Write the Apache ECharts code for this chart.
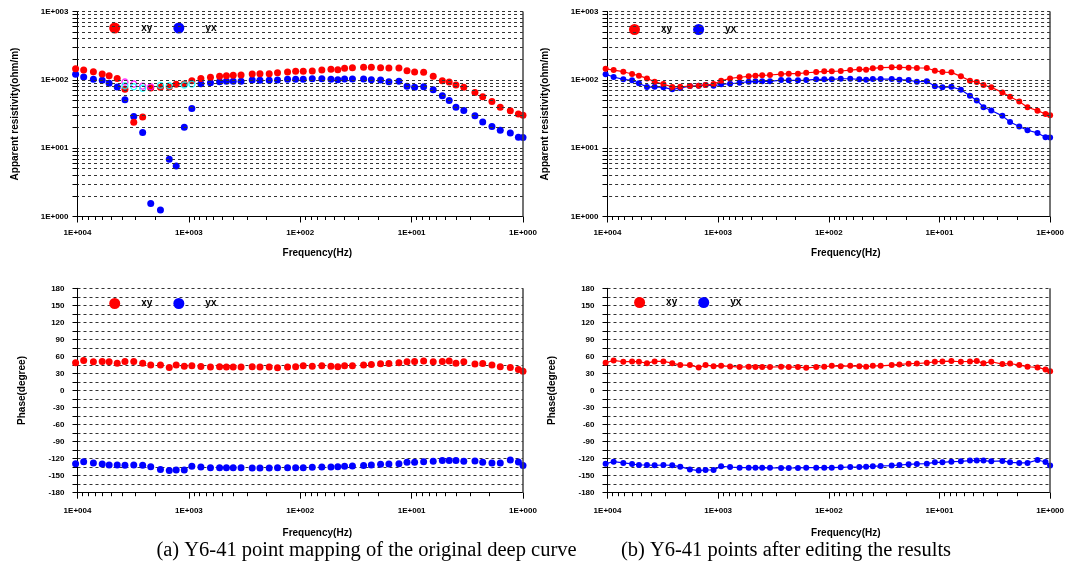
<!DOCTYPE html>
<html>
<head>
<meta charset="utf-8">
<script src="https://cdn.jsdelivr.net/npm/echarts@6/dist/echarts.min.js"></script>
<style>html,body{margin:0;padding:0;background:#fff}#c{width:1067px;height:564px}</style>
</head>
<body>
<div id="c"></div>
<script>
// ---------------- data ----------------
const freqHz = [10400, 8800, 7200, 6000, 5200, 4400, 3750, 3125, 2600, 2200, 1800, 1500, 1300, 1100, 940, 780, 640, 530, 460, 400, 340, 270, 230, 190, 160, 130, 110, 94, 78, 64, 53, 46, 40, 34, 27, 23, 19, 16, 13, 11, 9.4, 7.8, 6.4, 5.3, 4.6, 4.0, 3.4, 2.7, 2.3, 1.9, 1.6, 1.3, 1.1, 1.0];

// (a) original curve
const rhoXyRaw = [145.5, 139, 131.5, 121.6, 115, 105, 72.6, 24, 28.7, 75.8, 77.6, 78.4, 85.9, 86.7, 97, 105, 109, 112.5, 115, 116.5, 117.6, 121.6, 123, 123, 127, 130, 133, 133, 134.6, 139, 142.6, 140.7, 147.5, 150.6, 152.6, 152.6, 150.6, 149, 149, 136, 130, 128.8, 112.5, 97, 92.9, 83.9, 77.6, 65.5, 56.5, 48.3, 39.7, 35.4, 31.6, 30.4];
const rhoYxRaw = [120.5, 110, 101.7, 98.4, 88.9, 78.4, 51, 29.1, 16.9, 1.55, 1.25, 6.87, 5.48, 20.3, 38.1, 87.7, 90.7, 93.8, 95, 95, 95, 99.3, 98.4, 98.4, 99.3, 101.7, 101.7, 101.7, 103.8, 103.8, 101.7, 100.4, 102.7, 102.7, 102.7, 100.4, 99.3, 93.8, 95, 80.3, 77.6, 78.9, 71.6, 58.5, 50, 39.7, 35.6, 29.7, 24.2, 20.7, 18.3, 16.7, 14.4, 14.3];
// open (edited) markers in (a)
const openXyFreq = [3750, 3125, 2600, 2200];
const openXyRho = [92.9, 86.7, 81, 79.2];
const openYxFreq = [3750, 3125, 2600, 1800, 1500, 1100, 940];
const openYxRho = [81.9, 79.2, 75.2, 83, 81.9, 83.9, 86.7];

// (b) after editing
const rhoXyEdited = [145.5, 139, 131.5, 121.6, 115, 105, 93.8, 86.7, 78.4, 79.2, 81, 81.9, 83.9, 86.7, 97, 105, 109, 112.5, 115, 116.5, 117.6, 121.6, 123, 123, 127, 130, 133, 133, 134.6, 139, 142.6, 140.7, 147.5, 150.6, 152.6, 152.6, 150.6, 149, 149, 136, 130, 128.8, 112.5, 97, 92.9, 83.9, 77.6, 65.5, 56.5, 48.3, 39.7, 35.4, 31.6, 30.4];
const rhoYxEdited = [120.5, 110, 101.7, 98.4, 88.9, 78.4, 78.9, 77.6, 72.6, 75.9, 81, 81.9, 83.9, 81.9, 85.9, 87.7, 90.7, 93.8, 95, 95, 95, 99.3, 98.4, 98.4, 99.3, 101.7, 101.7, 101.7, 103.8, 103.8, 101.7, 100.4, 102.7, 102.7, 102.7, 100.4, 99.3, 93.8, 95, 80.3, 77.6, 78.9, 71.6, 58.5, 50, 39.7, 35.6, 29.7, 24.2, 20.7, 18.3, 16.7, 14.4, 14.3];

// phases (same in both panels)
const phaseXy = [48.8, 52.9, 50.6, 51.2, 50.6, 48.2, 51.2, 51.2, 48.2, 44.7, 44.7, 40.6, 44.7, 42.9, 43.5, 42.4, 41.2, 41.8, 41.2, 41.2, 41.2, 41.8, 41.2, 41.2, 40, 41.2, 41.8, 43.5, 42.9, 43.5, 42.9, 41.8, 43.5, 43.5, 44.7, 45.9, 47.1, 47.6, 48.8, 50.6, 51.2, 51.8, 50.6, 51.2, 51.8, 48.2, 50.6, 46.5, 47.6, 44.7, 41.8, 40.6, 37.1, 34.1];
const phaseYx = [-128.8, -125.3, -127.6, -129.4, -131.2, -131.2, -131.8, -131.2, -131.8, -134.1, -139, -141, -140, -140, -133.5, -134.7, -135.9, -135.9, -135.9, -136.2, -136.2, -136.5, -136.5, -136.5, -136, -136, -135.9, -135.9, -135.3, -134.7, -134.7, -134.1, -133.5, -132.9, -132.3, -131.2, -130, -129.4, -128.8, -126.5, -126.5, -125.3, -124.7, -123.5, -123.5, -123.5, -124.7, -124.1, -126.5, -127.6, -127.6, -122.4, -125.9, -132.3];

// axis/grid values
const rhoGridValues = [2, 3, 4, 5, 6, 7, 8, 9, 10, 20, 30, 40, 50, 60, 70, 80, 90, 100, 200, 300, 400, 500, 600, 700, 800, 900, 1000];
const rhoMinorTicks = [2, 3, 4, 5, 6, 7, 8, 9, 20, 30, 40, 50, 60, 70, 80, 90, 200, 300, 400, 500, 600, 700, 800, 900];
const freqMinorTicks = [2, 3, 4, 5, 6, 7, 8, 9, 20, 30, 40, 50, 60, 70, 80, 90, 200, 300, 400, 500, 600, 700, 800, 900, 2000, 3000, 4000, 5000, 6000, 7000, 8000, 9000];
const captions = ['(a) Y6-41 point mapping of the original deep curve', '(b) Y6-41 points after editing the results'];

// ---------------- chart ----------------
const SANS = 'Liberation Sans, Arial, sans-serif';
const RED = '#ff0000', BLUE = '#0000ff';
const pairs = (xs, ys) => xs.map((x, i) => [x, ys[i]]);
const fmtE = v => { const e = Math.round(Math.log10(v)); return '1E' + (e < 0 ? '-' : '+') + String(Math.abs(e)).padStart(3, '0'); };

const grids = [
  { left: 77.5, top: 11.5, width: 445.5, height: 205 },
  { left: 607.5, top: 11.5, width: 445.5, height: 205 },
  { left: 77.5, top: 288.3, width: 445.5, height: 204.4 },
  { left: 607.5, top: 288.3, width: 445.5, height: 204.4 }
];

const tickText = { fontSize: 8, fontWeight: 'bold', color: '#000', fontFamily: SANS };
const nameText = { fontSize: 10, fontWeight: 'bold', color: '#000', fontFamily: SANS };

const xAxes = [];
grids.forEach((g, i) => {
  xAxes.push({
    gridIndex: i, type: 'log', logBase: 10, min: 1, max: 10000, inverse: true, position: 'bottom',
    axisLine: { show: true, onZero: false, lineStyle: { color: '#000', width: 1 } },
    axisTick: { show: true, length: 6, lineStyle: { color: '#000' } },
    axisLabel: Object.assign({ formatter: fmtE, margin: i < 2 ? 12 : 14 }, tickText),
    splitLine: { show: false },
    name: 'Frequency(Hz)', nameLocation: 'middle', nameGap: i < 2 ? 32 : 36,
    nameTextStyle: Object.assign({ padding: [0, 0, 0, 34] }, nameText)
  });
});
// hidden helper axes for minor ticks on the frequency axes
grids.forEach((g, i) => {
  xAxes.push({
    gridIndex: i, type: 'value', min: 0, max: 4, inverse: true, position: 'bottom',
    axisLine: { show: false, onZero: false }, axisLabel: { show: false }, splitLine: { show: false },
    axisTick: { show: true, length: 3.5, customValues: freqMinorTicks.map(Math.log10), lineStyle: { color: '#000' } }
  });
});

const yAxes = [];
[0, 1].forEach(i => {
  yAxes.push({
    gridIndex: i, type: 'log', logBase: 10, min: 1, max: 1000, position: 'left',
    axisLine: { show: true, onZero: false, lineStyle: { color: '#000', width: 1 } },
    axisTick: { show: true, length: 5, lineStyle: { color: '#000' } },
    axisLabel: Object.assign({ formatter: fmtE, margin: 9 }, tickText),
    splitLine: { show: false },
    name: 'Apparent resistivity(ohm/m)', nameLocation: 'middle', nameGap: 57, nameTextStyle: nameText
  });
});
[2, 3].forEach(i => {
  yAxes.push({
    gridIndex: i, type: 'value', min: -180, max: 180, interval: 15, position: 'left',
    axisLine: { show: true, onZero: false, lineStyle: { color: '#000', width: 1 } },
    axisTick: { show: true, length: 5, lineStyle: { color: '#000' } },
    axisLabel: Object.assign({ formatter: v => (v % 30 === 0 ? String(v) : ''), margin: 13 }, tickText),
    splitLine: { show: true, lineStyle: { color: '#333', width: 1, type: [3, 3] } },
    name: 'Phase(degree)', nameLocation: 'middle', nameGap: 50, nameTextStyle: nameText
  });
});
[0, 1].forEach(i => {
  yAxes.push({
    gridIndex: i, type: 'value', min: 0, max: 3, position: 'left',
    axisLine: { show: false, onZero: false }, axisLabel: { show: false }, splitLine: { show: false },
    axisTick: { show: true, length: 5, customValues: rhoMinorTicks.map(Math.log10), lineStyle: { color: '#000' } }
  });
});

const series = [];
// grid decoration (dashed horizontal grid on log axes + right border)
grids.forEach((g, i) => {
  const ml = [];
  if (i < 2) {
    rhoGridValues.forEach(v => ml.push({ yAxis: v, lineStyle: { color: '#333', width: 1, type: [3, 3] } }));
  }
  ml.push({ xAxis: 1, lineStyle: { color: '#444', width: 1.5, type: 'solid' } });
  series.push({
    type: 'scatter', name: 'grid' + i, xAxisIndex: i, yAxisIndex: i, data: [], z: 1, silent: true,
    markLine: { silent: true, symbol: ['none', 'none'], label: { show: false }, animation: false, data: ml }
  });
});

function scatterS(name, xi, data, color, size) {
  return { type: 'scatter', name, xAxisIndex: xi, yAxisIndex: xi, data, symbol: 'circle', symbolSize: size,
    itemStyle: { color, opacity: 1 }, clip: false, z: 3 };
}
function lineS(name, xi, data, color) {
  return { type: 'line', name, xAxisIndex: xi, yAxisIndex: xi, data, symbol: 'circle', symbolSize: 6, showSymbol: true,
    itemStyle: { color }, lineStyle: { color, width: 1.2 }, clip: false, z: 3 };
}
function openS(name, xi, data, color) {
  return { type: 'scatter', name, xAxisIndex: xi, yAxisIndex: xi, data, symbol: 'circle', symbolSize: 6,
    itemStyle: { color: 'rgba(0,0,0,0)', borderColor: color, borderWidth: 1.4 }, clip: false, z: 4 };
}

// (a) top: resistivity, original
series.push(scatterS('yx', 0, pairs(freqHz, rhoYxRaw), BLUE, 7));
series.push(scatterS('xy', 0, pairs(freqHz, rhoXyRaw), RED, 7));
series.push(openS('xy edited', 0, pairs(openXyFreq, openXyRho), '#ff00ff'));
series.push(openS('yx edited', 0, pairs(openYxFreq, openYxRho), '#00ffff'));
// (b) top: resistivity, edited
series.push(lineS('yx', 1, pairs(freqHz, rhoYxEdited), BLUE));
series.push(lineS('xy', 1, pairs(freqHz, rhoXyEdited), RED));
// (a) bottom: phase
series.push(scatterS('yx', 2, pairs(freqHz, phaseYx), BLUE, 7));
series.push(scatterS('xy', 2, pairs(freqHz, phaseXy), RED, 7));
// (b) bottom: phase
series.push(lineS('yx', 3, pairs(freqHz, phaseYx), BLUE));
series.push(lineS('xy', 3, pairs(freqHz, phaseXy), RED));

const legendPos = [[109.2, 22.5], [629, 24], [109.2, 298], [634.1, 297]];
const legends = legendPos.map(p => ({
  left: p[0], top: p[1], padding: 0, itemGap: 21, itemWidth: 11, itemHeight: 11, icon: 'circle',
  selectedMode: false, data: ['xy', 'yx'],
  textStyle: { fontSize: 10, fontWeight: 'bold', color: '#000', fontFamily: SANS, padding: [0, 0, 0, 16] }
}));

const chart = echarts.init(document.getElementById('c'), null, { renderer: 'canvas' });
chart.setOption({
  animation: false,
  backgroundColor: '#fff',
  grid: grids,
  xAxis: xAxes,
  yAxis: yAxes,
  legend: legends,
  series: series,
  graphic: [
    { type: 'text', x: 366.5, y: 551, silent: true,
      style: { text: captions[0], fill: '#000', font: '20.5px "Liberation Serif", "Times New Roman", serif', textAlign: 'center', textVerticalAlign: 'middle' } },
    { type: 'text', x: 786, y: 551, silent: true,
      style: { text: captions[1], fill: '#000', font: '20.5px "Liberation Serif", "Times New Roman", serif', textAlign: 'center', textVerticalAlign: 'middle' } }
  ]
});
</script>
</body>
</html>
